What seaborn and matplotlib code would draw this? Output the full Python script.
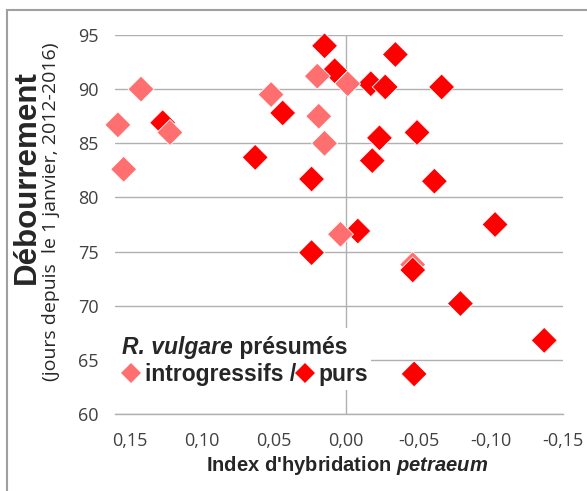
import seaborn as sns
import matplotlib.pyplot as plt
import pandas as pd
from matplotlib.lines import Line2D
from matplotlib.patches import Rectangle
from matplotlib.ticker import FuncFormatter

# R. vulgare présumés introgressifs
intro_x = [0.158, 0.154, 0.142, 0.122, 0.052, 0.020, -0.001, 0.019, 0.015, 0.004, -0.046]
intro_y = [86.7, 82.6, 90.0, 86.0, 89.5, 91.2, 90.5, 87.5, 85.0, 76.6, 73.8]
# R. vulgare présumés purs
purs_x = [0.127, 0.044, 0.063, 0.015, 0.008, -0.017, -0.027, -0.034, -0.066, -0.023, -0.049,
          -0.018, 0.024, -0.061, -0.103, -0.008, 0.024, -0.046, -0.079, -0.137, -0.047]
purs_y = [86.9, 87.8, 83.7, 94.0, 91.7, 90.5, 90.2, 93.2, 90.2, 85.5, 86.0,
          83.4, 81.7, 81.5, 77.5, 76.9, 74.9, 73.3, 70.2, 66.8, 63.7]

groups = ['introgressifs', 'purs']
colors = ['#ff6f6f', '#ff0000']
x_ticks = [0.15, 0.10, 0.05, 0.0, -0.05, -0.10, -0.15]
y_ticks = [60, 65, 70, 75, 80, 85, 90, 95]

df = pd.DataFrame({
    'index': intro_x + purs_x,
    'debourrement': intro_y + purs_y,
    'groupe': [groups[0]] * len(intro_x) + [groups[1]] * len(purs_x),
})
# lower points drawn on top
df = df.sort_values('debourrement', ascending=False)

sns.set_style('white')
plt.rcParams['font.family'] = ['Open Sans', 'DejaVu Sans']
plt.rcParams['mathtext.fontset'] = 'custom'
plt.rcParams['mathtext.it'] = 'Liberation Sans:italic:bold'
plt.rcParams['mathtext.rm'] = 'Liberation Sans:bold'

fig = plt.figure(figsize=(5.87, 4.91), dpi=100)
ax = fig.add_axes([115 / 587, 77 / 491, 448 / 587, 379 / 491])

grid_col = '#b0b0b0'
sns.scatterplot(data=df, x='index', y='debourrement', hue='groupe',
                palette=dict(zip(groups, colors)), marker='D', s=175,
                edgecolor='white', linewidth=0.6, legend=False, zorder=3,
                clip_on=False, ax=ax)

ax.set_xlim(0.16, -0.15)
ax.set_ylim(60, 95)
ax.set_xticks(x_ticks)
ax.set_yticks(y_ticks)
ax.xaxis.set_major_formatter(FuncFormatter(
    lambda v, p: ('%.2f' % (0.0 if abs(v) < 1e-9 else v)).replace('.', ',')))
ax.grid(axis='y', color=grid_col, lw=1)
ax.set_axisbelow(True)
ax.axvline(0, color=grid_col, lw=1, zorder=1)

for s in ['top', 'right', 'left']:
    ax.spines[s].set_visible(False)
ax.spines['bottom'].set_color(grid_col)
ax.spines['bottom'].set_linewidth(1)

ax.tick_params(axis='x', direction='out', length=5, width=1, color=grid_col,
               pad=8, labelsize=13, labelcolor='#404040')
ax.tick_params(axis='y', length=0, pad=12, labelsize=13, labelcolor='#404040')

ax.set_ylabel('')
ax.set_xlabel(r"Index d'hybridation $\mathit{petraeum}$", fontsize=14.5,
              fontweight='bold', family='Liberation Sans')
ax.xaxis.set_label_coords(0.518, -0.105)

fig.text(27 / 587, 1 - 177 / 491, 'Débourrement', rotation=90, ha='center', va='center',
         fontsize=22.5, fontweight='bold', family='Liberation Sans')
fig.text(51 / 587, 1 - 212 / 491, '(jours depuis  le 1 janvier, 2012-2016)', rotation=90,
         ha='center', va='center', fontsize=14)

# white legend box
ax.add_patch(Rectangle((0, 0.063), 0.571, 0.164, transform=ax.transAxes,
                       facecolor='white', edgecolor='none', zorder=2))
leg_font = {'family': 'Liberation Sans', 'weight': 'bold', 'size': 16.5}
t1 = ax.text(0.0156, 0.158, 'R. vulgare', transform=ax.transAxes, ha='left',
             va='baseline', style='italic', zorder=5, **leg_font)
ax.annotate(' présumés', xy=(1, 0), xycoords=t1, ha='left', va='bottom',
            zorder=5, **leg_font)
handles = [Line2D([], [], marker='D', ls='', color=c, markersize=10.5, markeredgewidth=0)
           for c in colors]
ax.legend(handles, ['introgressifs /', 'purs'], ncol=2, frameon=False,
          loc='center left', bbox_to_anchor=(-0.025, 0.103), borderpad=0.3,
          handlelength=0.8, handletextpad=0.2, columnspacing=-0.02,
          prop=leg_font)

fig.add_artist(Rectangle((7 / 587, -0.1), 1.2, 1 - 10 / 491 + 0.1, transform=fig.transFigure,
                         fill=False, edgecolor='#a0a0a0', lw=1.5))

fig.savefig('out.png', dpi=100, facecolor='white')
